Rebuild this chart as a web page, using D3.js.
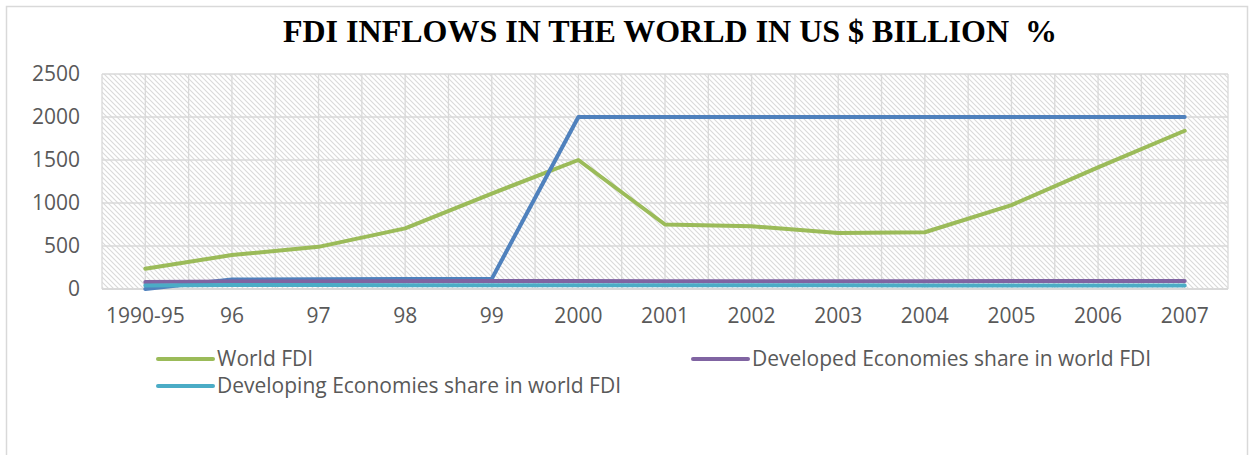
<!DOCTYPE html>
<html>
<head>
<meta charset="utf-8">
<script src="https://cdn.jsdelivr.net/npm/d3@7"></script>
<style>
  html, body { margin: 0; padding: 0; background: #fff; }
  svg { display: block; }
</style>
</head>
<body>
<div id="chart"></div>
<script>
// chart values
var categories = ["1990-95", "96", "97", "98", "99", "2000", "2001", "2002", "2003", "2004", "2005", "2006", "2007"];
var worldFdi = [235, 395, 490, 705, 1110, 1500, 750, 730, 650, 660, 975, 1415, 1840];
var totalLine = [0, 110, 112, 115, 118, 2000, 2000, 2000, 2000, 2000, 2000, 2000, 2000];
var developedShare = [80, 86, 88, 90, 92, 92, 90, 90, 90, 90, 92, 92, 92];
var developingShare = [42, 46, 46, 45, 45, 44, 44, 44, 44, 42, 42, 40, 40];
var yTicks = [0, 500, 1000, 1500, 2000, 2500];

var seriesList = [
  { name: "World FDI", values: worldFdi, color: "#9bbb59", legend: true },
  { name: "", values: totalLine, color: "#4f81bd", legend: false },
  { name: "Developed Economies share in world FDI", values: developedShare, color: "#8064a2", legend: true },
  { name: "Developing Economies share in world FDI", values: developingShare, color: "#4bacc6", legend: true }
];

var W = 1256, H = 455;
var plot = { left: 102, right: 1228, top: 74, bottom: 289 };
var textColor = "#595959";
var gridColor = "#d9d9d9";
var font = "'Open Sans', 'Liberation Sans', sans-serif";

var svg = d3.select("#chart").append("svg")
  .attr("width", W)
  .attr("height", H);

// hatch pattern for the plot area
var defs = svg.append("defs");
var pat = defs.append("pattern")
  .attr("id", "hatch")
  .attr("patternUnits", "userSpaceOnUse")
  .attr("width", 5)
  .attr("height", 5);
pat.append("rect").attr("width", 5).attr("height", 5).attr("fill", "#fff");
pat.append("path")
  .attr("d", "M-1,-1 L6,6 M-1,4 L1,6 M4,-1 L6,1")
  .attr("stroke", "#dadada")
  .attr("stroke-width", 1.1);

// outer chart border
svg.append("rect")
  .attr("x", 6.5).attr("y", 6.5)
  .attr("width", 1241).attr("height", 470)
  .attr("fill", "none")
  .attr("stroke", gridColor)
  .attr("stroke-width", 1.5);

svg.append("text")
  .attr("x", 670)
  .attr("y", 42)
  .attr("text-anchor", "middle")
  .style("font-family", "'Liberation Serif', 'Times New Roman', serif")
  .style("font-weight", "bold")
  .style("font-size", "32px")
  .style("white-space", "pre")
  .attr("fill", "#000")
  .text("FDI INFLOWS IN THE WORLD IN US $ BILLION  %");

var x = d3.scaleBand()
  .domain(categories)
  .range([plot.left, plot.right]);

var y = d3.scaleLinear()
  .domain([0, 2500])
  .range([plot.bottom, plot.top]);

var bw = x.bandwidth();

svg.append("rect")
  .attr("x", plot.left).attr("y", plot.top)
  .attr("width", plot.right - plot.left)
  .attr("height", plot.bottom - plot.top)
  .attr("fill", "url(#hatch)");

// vertical gridlines at band edges and band centres
var vLines = [];
categories.forEach(function (c) {
  vLines.push(x(c));
  vLines.push(x(c) + bw / 2);
});
vLines.push(plot.right);

var grid = svg.append("g").attr("class", "grid");
grid.selectAll("line.v")
  .data(vLines)
  .enter().append("line")
  .attr("class", "v")
  .attr("x1", d => d).attr("x2", d => d)
  .attr("y1", plot.top).attr("y2", plot.bottom)
  .attr("stroke", gridColor)
  .attr("stroke-width", 1.3);

grid.selectAll("line.h")
  .data(yTicks)
  .enter().append("line")
  .attr("class", "h")
  .attr("x1", plot.left).attr("x2", plot.right)
  .attr("y1", d => y(d)).attr("y2", d => y(d))
  .attr("stroke", gridColor)
  .attr("stroke-width", d => d === 0 ? 2 : 1.3);

// y axis
var yAxis = d3.axisLeft(y)
  .tickValues(yTicks)
  .tickFormat(d3.format("d"))
  .tickSize(0)
  .tickPadding(0);

var yG = svg.append("g")
  .attr("transform", "translate(80,0)")
  .call(yAxis);
yG.select(".domain").remove();
yG.selectAll("text")
  .style("font-family", font)
  .style("font-size", "21px")
  .attr("fill", textColor);

// x axis
var xAxis = d3.axisBottom(x)
  .tickSize(0)
  .tickPadding(0);

var xG = svg.append("g")
  .attr("transform", "translate(0,308)")
  .call(xAxis);
xG.select(".domain").remove();
xG.selectAll("text")
  .style("font-family", font)
  .style("font-size", "21px")
  .attr("fill", textColor);

// lines
var line = d3.line()
  .x((d, i) => x(categories[i]) + bw / 2)
  .y(d => y(d));

svg.append("g").attr("class", "series")
  .selectAll("path")
  .data(seriesList)
  .enter().append("path")
  .attr("d", d => line(d.values))
  .attr("fill", "none")
  .attr("stroke", d => d.color)
  .attr("stroke-width", 4)
  .attr("stroke-linejoin", "round")
  .attr("stroke-linecap", "round");

// legend, two columns
var legendItems = seriesList.filter(d => d.legend);
var legend = svg.selectAll(".legend")
  .data(legendItems)
  .enter().append("g")
  .attr("class", "legend")
  .attr("transform", (d, i) => {
    let col = i % 2;
    let row = Math.floor(i / 2);
    return `translate(${col === 0 ? 158 : 693},${359 + row * 27})`;
  });

legend.append("line")
  .attr("x1", 0).attr("x2", 55)
  .attr("y1", 0).attr("y2", 0)
  .attr("stroke", d => d.color)
  .attr("stroke-width", 4)
  .attr("stroke-linecap", "round");

legend.append("text")
  .attr("x", 59)
  .attr("y", 7)
  .style("font-family", font)
  .style("font-size", "21px")
  .attr("fill", textColor)
  .text(d => d.name);
</script>
</body>
</html>
